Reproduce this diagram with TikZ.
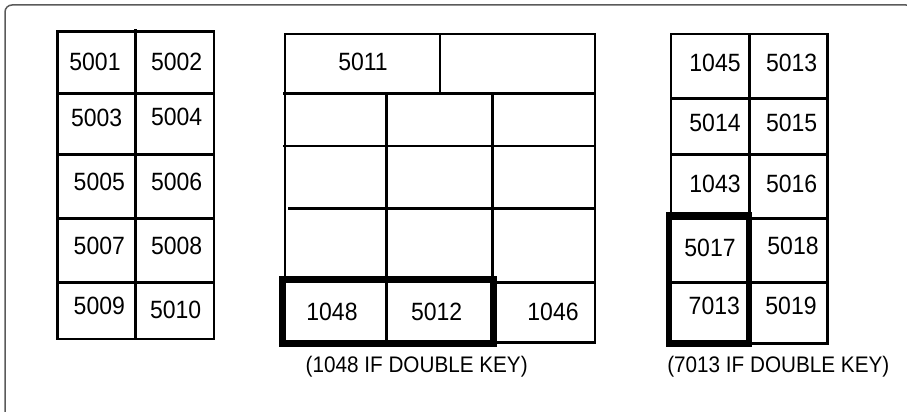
\documentclass[tikz,border=0pt]{standalone}
\usepackage{fontspec}
\setmainfont[FakeStretch=0.92]{Liberation Sans}
\begin{document}
\begin{tikzpicture}[x=1pt,y=-1pt,
  grid/.style={line width=2.6pt,line cap=rect},
  thickbox/.style={line width=6.5pt,line join=miter},
  frame/.style={line width=1.5pt,draw={rgb,255:red,90;green,90;blue,90},rounded corners=7pt},
  lbl/.style={inner sep=0pt,font=\fontsize{25}{28}\selectfont},
  captxt/.style={inner sep=0pt,font=\fontsize{22.5}{26}\selectfont}]
\useasboundingbox (0,0) rectangle (907,412);
\begin{scope}
\clip (0,0) rectangle (907,412);
\draw[frame] (5,5) rectangle (913,418);
\end{scope}
% left table
\draw[grid] (57.5,31.7) rectangle (214,339);
\draw[grid] (135.7,30) -- (135.7,339);
\foreach \yy in {93.3,154.3,218.3,282.3} \draw[grid] (57.5,\yy) -- (214,\yy);
% middle table
\draw[grid] (285,279.5) -- (285,34) -- (595,34) -- (595,342.7) -- (493,342.7);
\draw[grid] (440,34) -- (440,93.3);
\draw[grid] (284,93.3) -- (595,93.3);
\draw[grid] (284,146) -- (595,146);
\draw[grid] (289,208.3) -- (595,208.3);
\draw[grid] (493,282.3) -- (595,282.3);
\draw[grid] (386.7,93.3) -- (386.7,342);
\draw[grid] (492.7,93.3) -- (492.7,282.3);
\draw[thickbox] (282.3,279.5) rectangle (493.5,343.5);
% right table
\draw[grid] (671,34) rectangle (827.3,343.3);
\draw[grid] (749.3,34) -- (749.3,343.3);
\foreach \yy in {98.3,154.3,218.3,282.3} \draw[grid] (671,\yy) -- (827.3,\yy);
\draw[thickbox] (669,215.5) rectangle (749,343.5);
% labels
\node[lbl] (t5001) at (95,62.3) {5001};
\node[lbl] (t5002) at (176.7,62.3) {5002};
\node[lbl] (t5003) at (96.7,118.3) {5003};
\node[lbl] (t5004) at (176.7,116.7) {5004};
\node[lbl] (t5005) at (99.3,181.7) {5005};
\node[lbl] (t5006) at (176.7,181.7) {5006};
\node[lbl] (t5007) at (99.3,246) {5007};
\node[lbl] (t5008) at (176.7,246) {5008};
\node[lbl] (t5009) at (99.3,306) {5009};
\node[lbl] (t5010) at (175.7,310) {5010};
\node[lbl] (t5011) at (363,62) {5011};
\node[lbl] (t1048) at (332,311.7) {1048};
\node[lbl] (t5012) at (436.7,311.7) {5012};
\node[lbl] (t1046) at (553,311.7) {1046};
\node[captxt] (c1) at (416.7,366.7) {(1048 IF DOUBLE KEY)};
\node[lbl] (t1045) at (715,63) {1045};
\node[lbl] (t5013) at (791.7,63) {5013};
\node[lbl] (t5014) at (715,123.3) {5014};
\node[lbl] (t5015) at (791.7,123.3) {5015};
\node[lbl] (t1043) at (715,184) {1043};
\node[lbl] (t5016) at (791.7,184) {5016};
\node[lbl] (t5017) at (710,247.7) {5017};
\node[lbl] (t5018) at (793,246) {5018};
\node[lbl] (t7013) at (714.3,306) {7013};
\node[lbl] (t5019) at (791,306) {5019};
\node[captxt] (c2) at (778.3,366.7) {(7013 IF DOUBLE KEY)};
\end{tikzpicture}
\end{document}
